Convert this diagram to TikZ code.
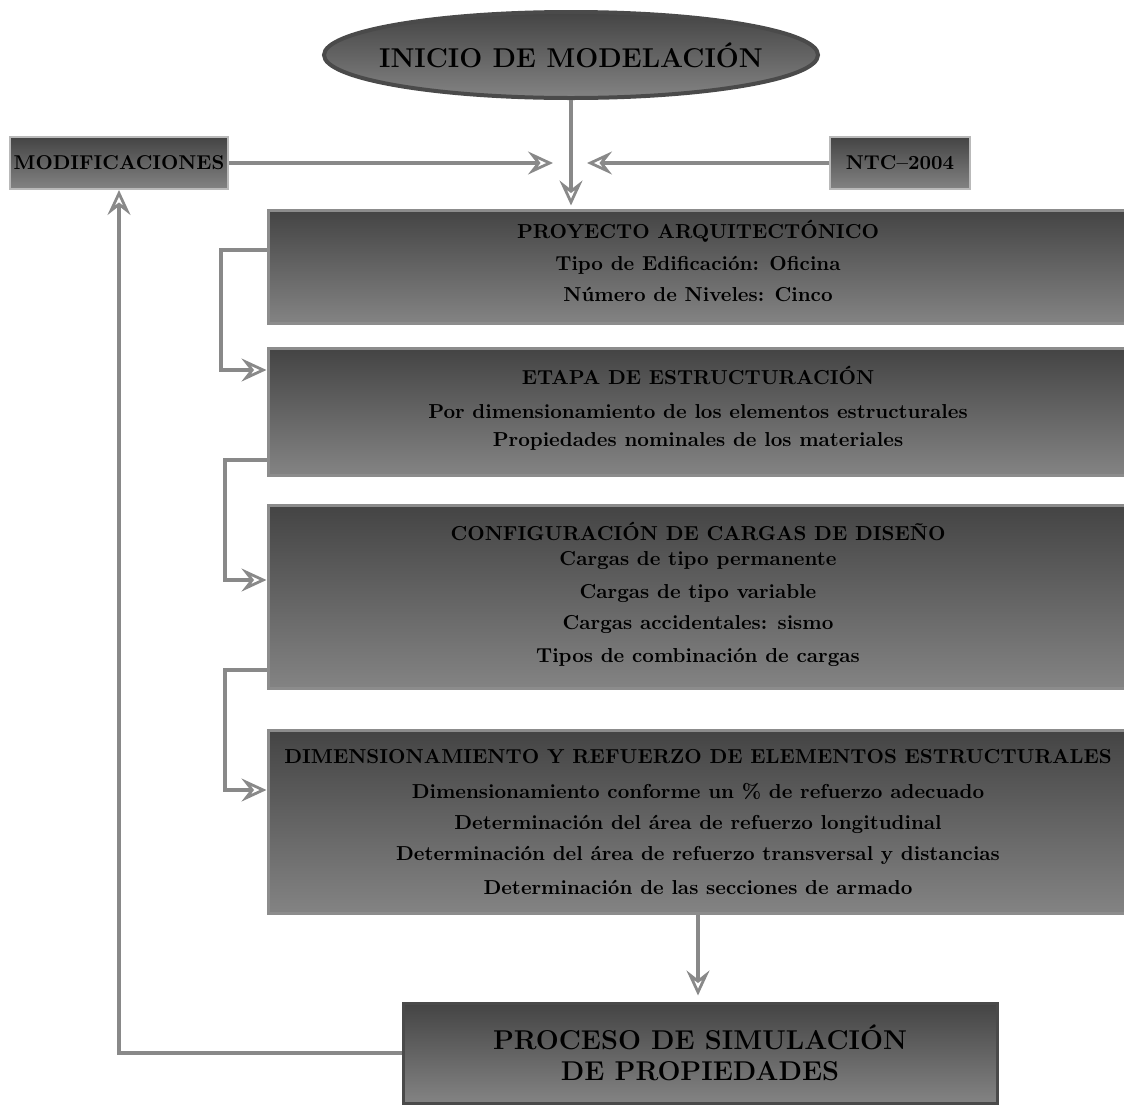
\documentclass[tikz,border=0pt]{standalone}
\usetikzlibrary{arrows.meta,shapes.geometric,calc}
\definecolor{shtop}{HTML}{444444}
\definecolor{shbot}{HTML}{838383}
\definecolor{conncol}{HTML}{898989}
\definecolor{brdlight}{HTML}{8C8C8C}
\definecolor{brddark}{HTML}{4A4A4A}
\begin{document}
\begin{tikzpicture}[x=0.5pt,y=-0.5pt,
  shadebox/.style={rectangle, top color=shtop, bottom color=shbot, draw=brdlight,
    line width=1.5pt, inner sep=0pt, align=center, font=\bfseries},
  smallbox/.style={shadebox, draw=gray!55, line width=1pt},
  boxtext/.style={align=center, inner sep=0pt, font=\fontsize{10.1}{12}\selectfont\bfseries},
  conn/.style={draw=conncol, line width=2pt,
    -{Stealth[open,length=12.5pt,width=11.5pt,inset=4.5pt,line width=1.4pt]}},
]
\useasboundingbox (0,0) rectangle (1124,1104);

\node[ellipse, top color=shtop, bottom color=shbot, draw=brddark, line width=2pt,
  minimum width=247pt, minimum height=43pt, inner sep=0pt] (inicio) at (571,55) {};
\node[inner sep=0pt, font=\fontsize{13.6}{16}\selectfont\bfseries] (inicioT) at (inicio.center) {INICIO DE MODELACIÓN};

\node[smallbox, minimum width=109pt, minimum height=26pt,
  font=\fontsize{10}{12}\selectfont\bfseries] (mod) at (119,163) {MODIFICACIONES};
\node[smallbox, minimum width=70pt, minimum height=26pt] (ntc) at (900,163) {NTC--2004};

\node[shadebox, minimum width=430pt, minimum height=56.5pt] (proy) at (698,266.5) {};
\node[boxtext] (proyT) at ([yshift=3pt]proy.center)
  {PROYECTO ARQUITECTÓNICO\\[4pt] Tipo de Edificación: Oficina\\[3.5pt] Número de Niveles: Cinco};

\node[shadebox, minimum width=430pt, minimum height=63.5pt] (etapa) at (698,411.5) {};
\node[boxtext] (etapaT) at ([yshift=1.5pt]etapa.center)
  {ETAPA DE ESTRUCTURACIÓN\\[5pt] Por dimensionamiento de los elementos estructurales\\[2pt] Propiedades nominales de los materiales};

\node[shadebox, minimum width=430pt, minimum height=91.5pt] (config) at (698,596.5) {};
\node[boxtext] (configT) at ([yshift=1pt]config.center)
  {CONFIGURACIÓN DE CARGAS DE DISEÑO\\[0.5pt] Cargas de tipo permanente\\[4.5pt] Cargas de tipo variable\\[3.5pt] Cargas accidentales: sismo\\[4.5pt] Tipos de combinación de cargas};

\node[shadebox, minimum width=430pt, minimum height=91.5pt] (dim) at (698,821.5) {};
\node[boxtext] (dimT) at (dim.center)
  {DIMENSIONAMIENTO Y REFUERZO DE ELEMENTOS ESTRUCTURALES\\[5.5pt] Dimensionamiento conforme un \% de refuerzo adecuado\\[3.5pt] Determinación del área de refuerzo longitudinal\\[3.5pt] Determinación del área de refuerzo transversal y distancias\\[5pt] Determinación de las secciones de armado};

\node[shadebox, draw=brddark, minimum width=297pt, minimum height=50pt,
  font=\fontsize{13.6}{15.5}\selectfont\bfseries] (proc) at (700,1053)
  {PROCESO DE SIMULACIÓN\\ DE PROPIEDADES};

\coordinate (mtip) at (553,163);
\coordinate (ntip) at (587,163);

\draw[conn, shorten >=1.5pt] (inicio.south) -- (inicio.south |- proy.north);
\draw[conn] (mod.east) -- (mtip);
\draw[conn] (ntc.west) -- (ntip);
\draw[conn] ([yshift=8.25pt]proy.west) -- ++(-46,0) |- ([yshift=20.75pt]etapa.west);
\draw[conn] ([yshift=-24.25pt]etapa.west) -- ++(-42,0) |- ([yshift=8.25pt]config.west);
\draw[conn] ([yshift=-36.75pt]config.west) -- ++(-42,0) |- ([yshift=15.75pt]dim.west);
\draw[conn, shorten >=3pt] (dim.south) -- (dim.south |- proc.north);
\draw[conn] (proc.west) -| (mod.south);
\end{tikzpicture}
\end{document}
